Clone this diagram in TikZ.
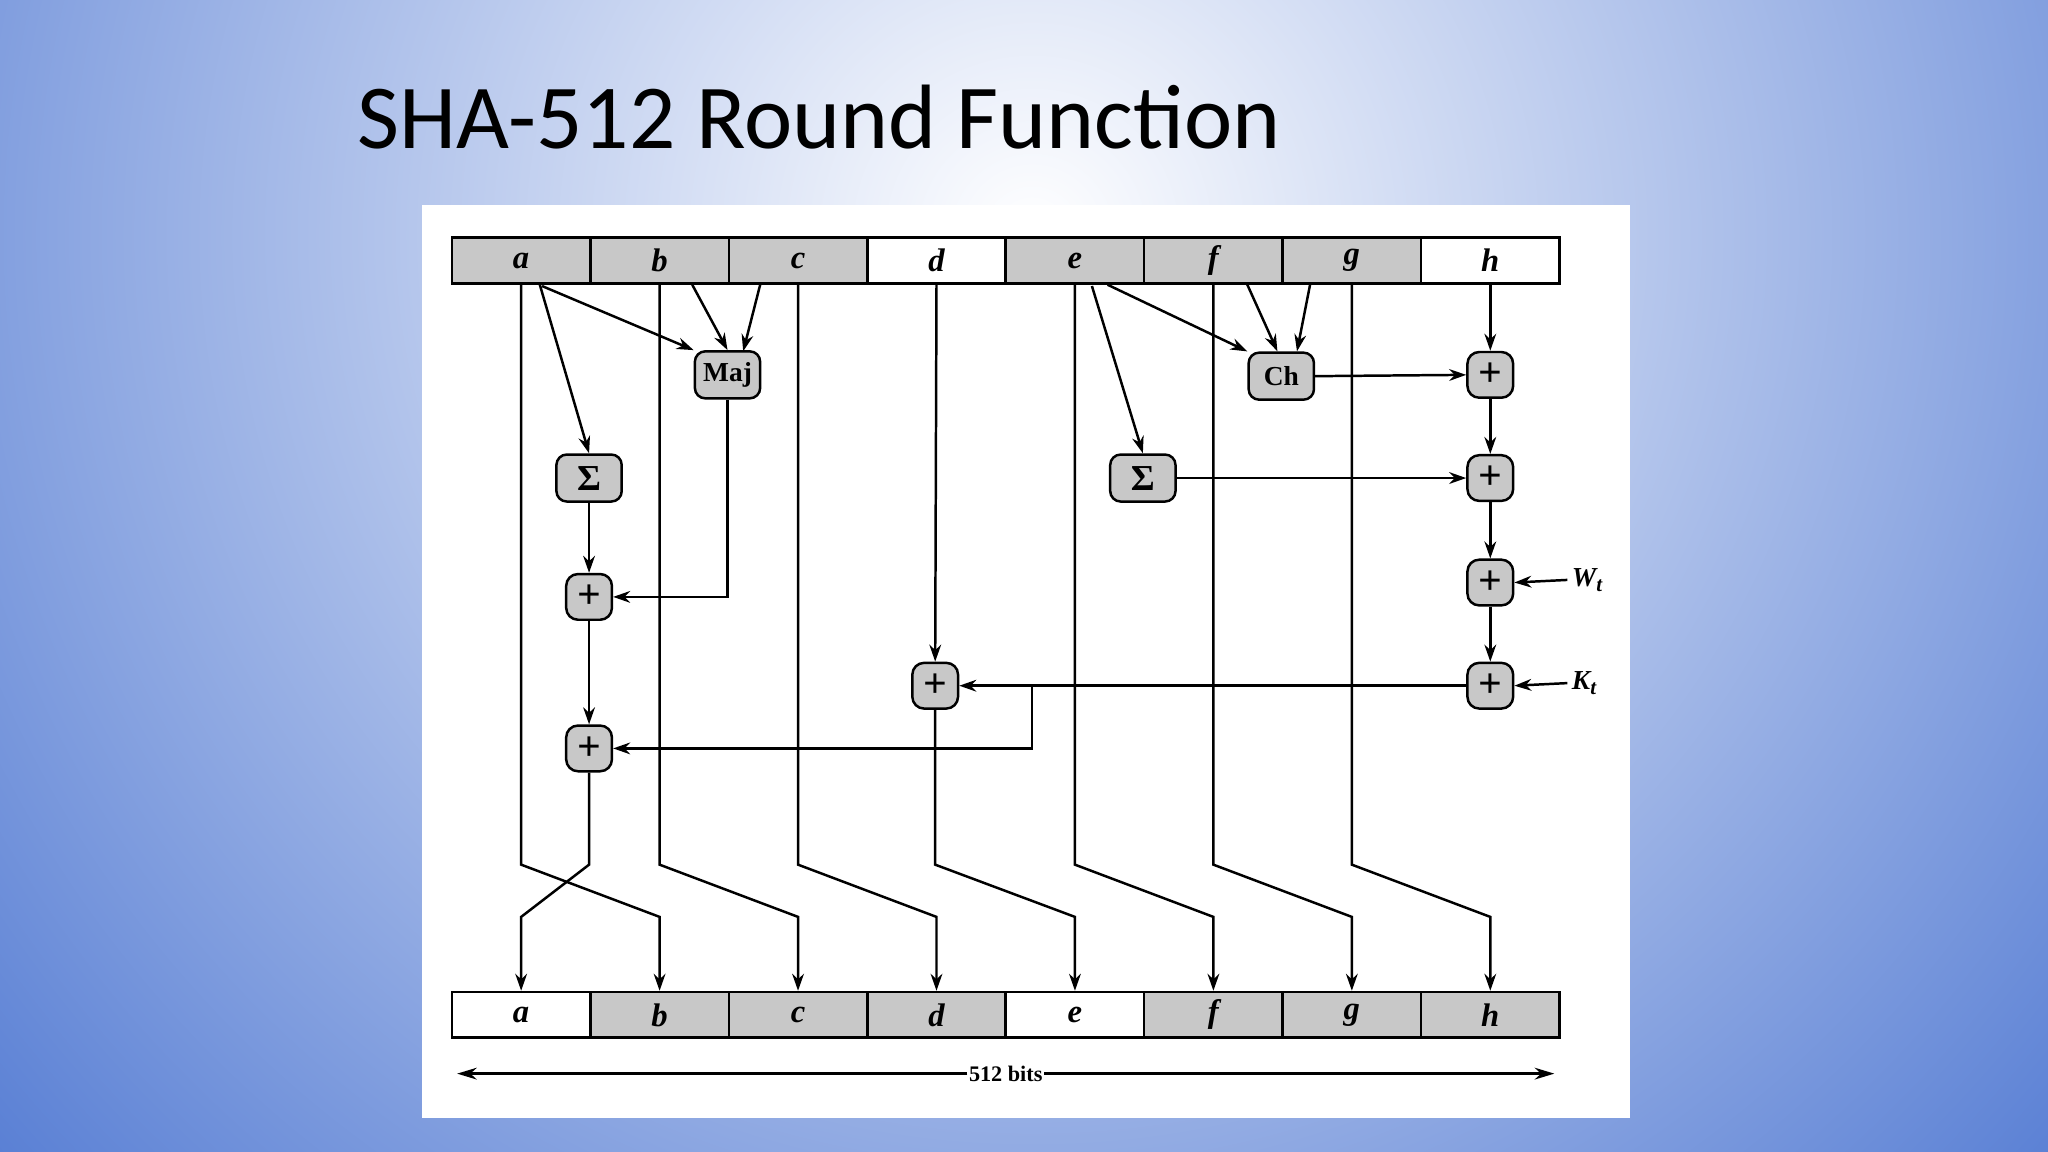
\documentclass[tikz,border=0pt]{standalone}
\usepackage{fontspec}
\setmainfont{Liberation Serif}
\newfontfamily\titlefont{Carlito}
\usetikzlibrary{arrows.meta}
\definecolor{bgblue}{RGB}{60,105,205}
\definecolor{cellgrey}{RGB}{200,200,200}
\begin{document}
\begin{tikzpicture}[x=1pt,y=-1pt,
  ln/.style={line width=1.9pt},
  ar/.style={ln,-{Stealth[length=13pt,width=9pt]}},
  reg/.style={draw,line width=1.9pt,minimum width=106pt,minimum height=35pt,inner sep=0pt,font=\fontsize{25}{25}\selectfont\bfseries\itshape},
  fn/.style={draw,line width=1.9pt,fill=cellgrey,rounded corners=8pt,minimum width=50pt,minimum height=36pt,inner sep=0pt,font=\fontsize{21}{21}\selectfont\bfseries},
  pl/.style={draw,line width=1.9pt,fill=cellgrey,rounded corners=9pt,minimum width=35pt,minimum height=35pt,inner sep=0pt,font=\fontsize{32}{32}\selectfont\bfseries}]
\useasboundingbox (0,0) rectangle (1568,882);
\begin{scope}
\clip (0,0) rectangle (1568,882);
\shade[inner color=white,outer color=bgblue] (790,180) circle (1250);
\end{scope}
\node[anchor=west,font=\titlefont\fontsize{70}{70}\selectfont] (title) at (270,90) {SHA-512 Round Func\kern0pt tion};
\fill[white] (323,157) rectangle (1248,856);
% registers
\foreach \n/\c [count=\i from 0] in {a/cellgrey,b/cellgrey,c/cellgrey,d/white,e/cellgrey,f/cellgrey,g/cellgrey,h/white}{
  \node[reg,fill=\c] (T\n) at (399+106*\i,199.5) {\n};}
\foreach \n/\c [count=\i from 0] in {a/white,b/cellgrey,c/cellgrey,d/cellgrey,e/white,f/cellgrey,g/cellgrey,h/cellgrey}{
  \node[reg,fill=\c] (B\n) at (399+106*\i,777) {\n};}
% function nodes
\node[fn] (maj) at (557,287) {Maj};
\node[fn,font=\fontsize{28}{28}\selectfont\bfseries] (sig1) at (451,366) {Σ};
\node[fn] (ch) at (981,288) {Ch};
\node[fn,font=\fontsize{28}{28}\selectfont\bfseries] (sig2) at (875,366) {Σ};
\node[pl] (p1) at (451,457) {+};
\node[pl] (p2) at (451,573) {+};
\node[pl] (pd) at (716,525) {+};
\node[pl] (h1) at (1141,287) {+};
\node[pl] (h2) at (1141,366) {+};
\node[pl] (h3) at (1141,446) {+};
\node[pl] (h4) at (1141,525) {+};
\node[anchor=west,font=\fontsize{21}{21}\selectfont\bfseries\itshape] (wt) at (1200,444) {W\raisebox{-4pt}{\fontsize{16}{16}\selectfont t}};
\node[anchor=west,font=\fontsize{21}{21}\selectfont\bfseries\itshape] (kt) at (1200,523) {K\raisebox{-4pt}{\fontsize{16}{16}\selectfont t}};
\coordinate (br) at (790,525);
% a, b, c lines
\draw[ar] (Ta.south) -- (399,662) -- (505,702) -- (Bb.north);
\draw[ar] (Tb.south) -- (505,662) -- (611,702) -- (Bc.north);
\draw[ar] (Tc.south-|611,0) -- (611,662) -- (717,702) -- (Bd.north);
\draw[ar] (413,217) -- (sig1.north);
\draw[ar] (415,219) -- (maj.north west);
\draw[ar] (530,218) -- (maj.north);
\draw[ar] (582,218) -- (569,269);
\draw[ar] (maj.south) |- (p1.east);
\draw[ar] (sig1) -- (p1);
\draw[ar] (p1) -- (p2);
\draw[ar] (p2.south) -- (451,662) -- (399,702) -- (Ba.north);
% d
\draw[ar] (Td.south) -- (pd.north);
\draw[ar] (pd.south) -- (716,662) -- (823,702) -- (Be.north);
% e f g
\draw[ar] (Te.south) -- (823,662) -- (929,702) -- (Bf.north);
\draw[ar] (Tf.south) -- (929,662) -- (1035,702) -- (Bg.north);
\draw[ar] (Tg.south) -- (1035,662) -- (1141,702) -- (Bh.north);
\draw[ar] (836,219) -- (sig2.north);
\draw[ar] (848,218) -- (ch.north west);
\draw[ar] (955,218) -- (978,269);
\draw[ar] (1003,218) -- (993,269);
% h chain
\draw[ar] (Th.south) -- (h1.north);
\draw[ar] (ch.east) -- (h1.west);
\draw[ar] (sig2.east) -- (h2.west);
\draw[ar] (h1) -- (h2);
\draw[ar] (h2) -- (h3);
\draw[ar] (h3) -- (h4);
\draw[ar] (wt.west) -- (h3.east);
\draw[ar] (kt.west) -- (h4.east);
\draw[ar] (h4.west) -- (pd.east);
\draw[ar] (br) |- (p2.east);
% 512 bits
\node[fill=white,inner sep=1pt,font=\fontsize{17}{17}\selectfont\bfseries] (bits) at (770,822) {512 bits};
\draw[ln,-{Stealth[length=15pt,width=9pt]}] (bits.west) -- (350,822);
\draw[ln,-{Stealth[length=15pt,width=9pt]}] (bits.east) -- (1190,822);
\end{tikzpicture}
\end{document}
